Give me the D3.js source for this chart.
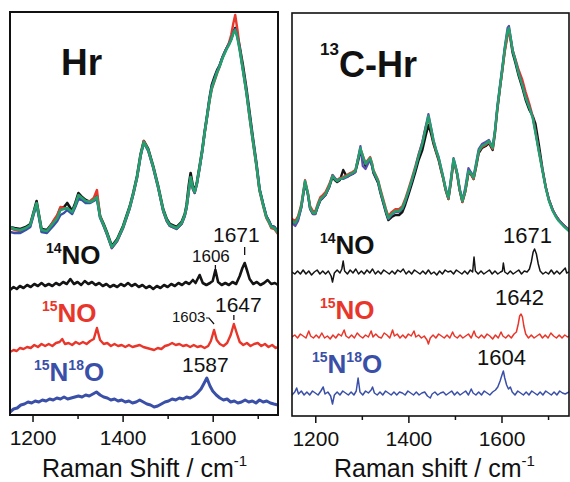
<!DOCTYPE html>
<html><head><meta charset="utf-8">
<script src="https://cdn.jsdelivr.net/npm/d3@7"></script>
<style>html,body{margin:0;padding:0;background:#fff;}svg{display:block;}text{font-family:"Liberation Sans",Arial,Helvetica,sans-serif;}</style>
</head><body><svg id="c" width="570" height="482"></svg>
<script>
// ---------- shared axis ----------
const xDomain = [1150, 1745];
const majorTicks = [1200, 1400, 1600];
const minorTicks = [1300, 1500, 1700];
const colors = {black:"#141414", red:"#e8362b", blue:"#3a4fa8", purple:"#5a4cae", green:"#23a06e"};

// ---------- left panel: Hr resonance Raman (4 overlaid) ----------
const hrX = [1150,1160,1173,1185,1195,1203,1209,1214,1220,1232,1246,1255,1262,1270,1277,1288,1295,1302,1310,1318,1328,1336,1343,1350,1358,1365,1376,1388,1401,1410,1416,1424,1432,1440,1447,1452,1457,1468,1479,1490,1498,1505,1520,1531,1538,1542,1547,1551,1556,1560,1565,1571,1577,1582,1588,1593,1598,1604,1610,1615,1622,1630,1636,1641,1646,1650,1655,1660,1667,1675,1682,1689,1697,1704,1712,1719,1725,1730,1737,1745];
const hrBlack = [188,187,186,188,191,204,214,201,186,185,193,199,207,208,212,204,212,222,218,215,213,216,219,199,191,183,169,176,189,201,209,223,239,261,274,270,266,249,229,206,196,191,188,193,201,210,230,242,229,224,233,249,266,283,301,317,330,338,345,349,358,366,371,376,383,387,379,368,350,326,302,278,252,226,211,199,194,189,188,183];
const hrRed = [187,185,184,186,189,202,211,199,184,183,194,200,208,207,206,202,209,219,216,213,214,217,225,199,189,181,167,174,187,199,207,221,237,259,274,270,264,247,227,204,194,189,186,191,199,207,224,237,226,222,231,247,264,281,299,314,326,334,342,348,358,366,372,380,392,400,385,367,346,322,297,274,249,224,209,197,192,187,186,181];
const hrBlue = [183,182,182,185,188,201,210,198,183,182,189,194,200,202,205,201,208,216,215,212,212,214,216,197,189,181,167,174,187,199,207,221,237,259,272,268,264,247,227,204,194,189,186,191,199,207,224,237,226,222,231,247,264,282,300,316,328,336,344,349,358,366,371,376,383,386,378,366,346,323,299,276,251,226,211,199,194,189,188,183];
const hrGreen = [188,186,185,187,190,203,212,200,185,184,192,197,205,206,207,203,210,220,217,214,213,215,218,198,190,182,168,175,188,200,208,222,238,260,273,269,265,248,228,205,195,190,187,192,200,208,225,238,227,223,232,248,265,282,300,315,327,335,343,348,357,365,370,375,382,385,377,365,345,322,298,275,250,225,210,198,193,188,187,182];

// left difference spectra (relative to own baseline) and offsets
const leftOffsets = {no14:130, no15:69, n15o18:13};
const l14X = [1150,1158,1165,1172,1180,1188,1196,1204,1212,1220,1228,1236,1244,1252,1260,1268,1276,1284,1292,1300,1308,1316,1324,1332,1340,1348,1356,1364,1372,1380,1388,1396,1404,1412,1420,1428,1436,1444,1452,1460,1468,1476,1484,1492,1500,1508,1516,1524,1532,1540,1548,1556,1562,1571,1578,1586,1594,1600,1606,1612,1620,1628,1636,1644,1652,1660,1666,1671,1676,1682,1690,1698,1706,1714,1722,1730,1738,1745];
const l14Y = [-5,-2,-4,-1,-3,0,-2,1,-1,2,-1,1,-1,2,0,3,1,6,1,3,0,4,1,3,0,2,-1,1,-2,0,-2,1,-1,2,-1,1,-2,0,-3,-1,-4,-1,-3,0,-2,1,-1,2,0,3,1,5,2,10,2,0,2,4,15,3,0,2,0,3,1,9,17,22,15,6,1,3,0,2,5,1,2,0];
const l15X = [1150,1158,1165,1172,1180,1188,1196,1204,1212,1220,1228,1236,1244,1252,1260,1266,1272,1280,1288,1296,1304,1312,1320,1328,1336,1343,1350,1358,1366,1374,1382,1390,1398,1406,1414,1422,1430,1438,1446,1454,1462,1470,1478,1486,1494,1502,1510,1518,1526,1534,1542,1550,1558,1566,1574,1582,1590,1596,1603,1609,1616,1624,1632,1640,1647,1654,1660,1668,1676,1684,1692,1700,1708,1716,1724,1732,1740,1745];
const l15Y = [-6,-4,-5,-2,-3,-1,-2,1,-1,2,0,2,0,3,4,7,2,3,1,4,2,4,2,5,7,18,6,2,3,0,2,0,1,-1,1,-1,0,1,-1,-2,-3,-4,-2,-3,0,1,3,1,2,0,1,-1,1,-1,0,-2,0,5,16,6,2,0,3,11,22,12,4,1,3,0,2,3,0,2,-1,1,-2,-1];
const l1518X = [1150,1158,1166,1174,1182,1190,1198,1206,1214,1222,1230,1238,1246,1254,1262,1270,1278,1286,1294,1302,1310,1318,1326,1334,1342,1350,1358,1366,1374,1382,1390,1398,1406,1414,1422,1430,1438,1446,1454,1462,1470,1478,1486,1494,1502,1510,1518,1526,1534,1542,1550,1558,1566,1574,1580,1587,1594,1600,1608,1616,1624,1632,1640,1648,1656,1664,1672,1680,1688,1696,1704,1712,1720,1728,1736,1745];
const l1518Y = [-10,-7,-6,-3,-2,0,-1,1,0,2,1,3,2,4,3,5,3,4,5,6,5,7,6,8,10,7,5,4,2,3,1,2,0,1,-1,0,2,0,-2,-3,-5,-4,-2,0,1,3,2,4,3,5,4,6,9,13,18,24,16,11,7,4,2,3,0,1,-1,0,2,0,1,-1,2,0,1,-1,-2,-3];

// ---------- right panel: 13C-Hr ----------
const c13X = [1150,1157,1163,1170,1178,1184,1189,1195,1200,1205,1211,1216,1222,1230,1237,1242,1247,1253,1260,1268,1275,1280,1286,1291,1297,1302,1308,1313,1318,1322,1325,1330,1335,1340,1346,1352,1357,1364,1372,1380,1387,1393,1400,1408,1415,1422,1430,1437,1443,1449,1454,1460,1465,1470,1475,1480,1486,1491,1497,1501,1505,1510,1516,1522,1529,1534,1540,1545,1551,1558,1566,1573,1581,1586,1591,1597,1602,1607,1613,1616,1620,1624,1630,1637,1645,1652,1660,1667,1673,1680,1688,1695,1702,1710,1717,1723,1733,1745];
const c13Black = [196,192,197,209,233,222,207,202,202,209,216,218,221,229,239,236,234,236,246,239,241,242,244,253,265,258,250,253,256,250,243,238,233,223,213,203,196,199,201,201,204,211,221,233,244,256,266,280,291,282,272,263,256,246,237,226,217,233,255,249,241,226,214,224,243,242,237,248,263,268,270,273,266,283,306,329,347,366,383,386,375,363,353,340,328,316,306,300,292,272,247,229,216,206,200,196,191,186];
const c13Red = [197,195,200,212,236,224,210,205,205,212,219,221,224,232,241,238,236,238,239,241,243,244,246,256,267,261,253,256,259,253,246,241,236,227,217,207,200,204,207,207,210,217,227,239,250,262,274,289,298,286,274,264,257,247,237,226,217,233,255,249,241,226,214,224,244,242,237,249,264,269,271,274,267,284,307,329,346,364,380,384,376,366,357,346,336,324,312,300,285,266,246,229,216,206,200,196,191,186];
const c13Blue = [193,190,195,208,234,222,207,202,202,209,216,218,221,229,241,238,235,237,237,239,241,242,244,256,270,250,247,252,256,250,244,239,234,224,214,204,197,201,204,204,207,214,224,236,248,261,274,289,302,288,276,266,259,249,239,228,219,236,258,251,243,228,216,228,248,244,240,252,267,272,274,276,269,286,310,332,350,369,388,390,378,366,356,343,331,319,309,299,284,266,246,229,216,206,200,196,191,186];
const c13Green = [195,193,198,210,235,223,208,203,203,210,217,219,222,230,240,237,235,237,238,240,242,243,245,255,268,260,252,255,258,252,245,240,235,225,215,205,198,202,205,205,208,215,225,237,248,260,272,287,300,287,275,265,258,248,238,227,218,235,257,250,242,227,215,225,245,243,238,250,265,270,272,275,268,285,308,330,348,367,385,388,377,365,355,342,330,318,308,298,283,265,245,228,215,205,199,195,190,185];

const rightOffsets = {no14:144, no15:80, n15o18:23};
const r14X = [1150,1156,1162,1168,1174,1180,1186,1192,1198,1204,1210,1216,1222,1228,1234,1237,1241,1247,1253,1257,1260,1263,1269,1275,1281,1287,1293,1299,1305,1311,1317,1323,1329,1335,1341,1347,1353,1359,1365,1371,1377,1383,1389,1395,1401,1407,1413,1419,1425,1431,1437,1443,1449,1455,1461,1467,1473,1479,1485,1491,1497,1503,1509,1515,1521,1527,1533,1538,1541,1544,1550,1556,1562,1568,1574,1580,1586,1592,1598,1602,1604,1607,1613,1619,1625,1631,1637,1643,1649,1655,1660,1664,1668,1671,1675,1679,1683,1689,1695,1701,1707,1713,1719,1725,1731,1737,1740,1745];
const r14Y = [0,-2,1,-2,2,-2,1,-3,0,2,-2,1,-2,1,-4,-10,-1,2,-1,3,11,1,-2,2,-1,3,-2,1,-2,2,-1,3,-2,1,-2,2,0,-2,1,-2,2,0,3,-2,1,-2,2,0,-2,1,-2,2,-2,0,-3,1,-2,2,0,1,-2,2,0,-2,1,-2,2,0,15,1,-2,1,-2,0,2,-2,1,-2,0,1,9,0,-2,1,-2,0,2,-2,1,0,3,10,20,23,18,8,1,-2,0,-2,2,-2,1,-2,1,4,-1,0];
const r15X = [1150,1156,1162,1168,1174,1180,1186,1190,1196,1202,1208,1214,1220,1226,1232,1238,1244,1250,1256,1262,1266,1272,1278,1284,1290,1296,1302,1308,1314,1320,1324,1330,1336,1342,1348,1354,1360,1366,1370,1376,1382,1388,1394,1400,1406,1412,1416,1422,1428,1434,1440,1443,1447,1453,1459,1465,1471,1477,1483,1489,1495,1499,1505,1511,1517,1523,1529,1535,1541,1545,1551,1557,1563,1569,1575,1581,1587,1593,1599,1603,1609,1615,1621,1627,1632,1636,1639,1642,1645,1648,1652,1658,1664,1670,1676,1682,1688,1694,1700,1706,1712,1718,1724,1730,1736,1742,1745];
const r15Y = [-1,1,-2,2,0,-2,5,0,-2,1,-2,3,-2,0,-3,1,-2,2,0,6,0,-2,1,-2,3,0,-2,1,-1,5,-1,2,-1,-2,3,1,-2,6,0,2,-2,1,-2,2,0,5,-1,1,-2,0,-4,-8,-2,1,-2,2,0,-2,1,-2,4,0,-2,1,-2,0,2,-2,5,0,-2,1,-2,2,0,-3,1,-2,4,0,-2,1,-2,2,4,12,20,22,19,10,2,-2,1,-2,0,2,-2,1,-2,3,0,-2,1,-2,1,-1,0];
const r1518X = [1150,1156,1160,1164,1170,1176,1182,1188,1194,1200,1206,1212,1217,1221,1227,1233,1237,1241,1247,1253,1259,1265,1271,1277,1283,1288,1292,1296,1302,1308,1314,1320,1323,1327,1333,1339,1345,1351,1357,1363,1369,1375,1381,1387,1393,1399,1405,1411,1417,1423,1429,1435,1441,1447,1451,1457,1463,1469,1475,1481,1487,1493,1499,1505,1511,1517,1523,1529,1535,1539,1545,1551,1557,1563,1569,1575,1581,1587,1592,1597,1601,1604,1607,1611,1615,1619,1623,1629,1635,1641,1647,1653,1659,1665,1671,1677,1683,1689,1695,1701,1707,1713,1719,1725,1731,1737,1745];
const r1518Y = [-2,1,5,-1,2,-2,1,-2,2,0,-2,2,6,-1,1,-3,-11,-2,1,-2,2,0,-2,1,-2,2,15,1,-2,2,0,3,6,0,-2,1,-2,2,0,-2,1,-2,1,0,-2,2,0,-2,1,-2,0,1,-3,-5,-1,1,-2,0,1,-2,0,2,-2,1,-2,0,2,-2,4,0,-2,1,-2,2,0,-2,1,3,6,12,18,22,15,8,4,6,1,-2,2,0,-2,1,-2,2,0,-2,1,-2,2,0,-2,1,-2,2,0,-1,1];

// ---------- drawing ----------
const svg = d3.select("#c");
const FONT = '"Liberation Sans",Arial,Helvetica,sans-serif';

function drawPanel(p) {
  const x = d3.scaleLinear().domain(xDomain).range([p.left, p.right]);
  const y = d3.scaleLinear().domain([0, 403]).range([p.bottom, p.top]);
  const g = svg.append("g");
  const clipId = "clip" + p.id;
  svg.append("clipPath").attr("id", clipId).append("rect")
    .attr("x", p.left).attr("y", p.top).attr("width", p.right - p.left).attr("height", p.bottom - p.top);
  const plot = g.append("g").attr("clip-path", `url(#${clipId})`);

  const line = (off) => d3.line().x(d => x(d[0])).y(d => y(d[1] + off));

  p.traces.forEach(t => {
    plot.append("path").datum(d3.zip(t.x, t.y))
      .attr("d", line(t.offset))
      .attr("fill", "none").attr("stroke", t.color).attr("stroke-width", t.width)
      .attr("stroke-linejoin", "round").attr("stroke-linecap", "round");
  });

  // frame
  g.append("rect").attr("x", p.left).attr("y", p.top).attr("width", p.right - p.left).attr("height", p.bottom - p.top)
    .attr("fill", "none").attr("stroke", "#111").attr("stroke-width", p.frameW);

  // axes
  const ax = g.append("g").attr("transform", `translate(0,${p.bottom})`)
    .call(d3.axisBottom(x).tickValues(majorTicks).tickSize(7).tickPadding(8).tickFormat(d3.format("d")));
  ax.select(".domain").remove();
  ax.selectAll("line").attr("stroke", "#111").attr("stroke-width", 1.5);
  ax.selectAll("text").attr("font-family", FONT).attr("font-size", 21).attr("fill", "#111");
  const axm = g.append("g").attr("transform", `translate(0,${p.bottom})`)
    .call(d3.axisBottom(x).tickValues(minorTicks).tickSize(4).tickFormat(""));
  axm.select(".domain").remove();
  axm.selectAll("line").attr("stroke", "#111").attr("stroke-width", 1.5);

  // axis title
  const tt = g.append("text").attr("x", p.titleX).attr("y", 477).attr("font-size", 25).attr("fill", "#111");
  tt.append("tspan").text(p.axisTitle);
  tt.append("tspan").attr("font-size", 15).attr("dy", -11).text("-1");

  return {x, y, g};
}

function supLabel(g, xPos, yBase, parts, color, bold) {
  const t = g.append("text").attr("x", xPos).attr("y", yBase).attr("fill", color)
    .attr("font-weight", bold ? "bold" : "normal");
  let prevRaise = 0;
  parts.forEach(pt => {
    t.append("tspan").attr("font-size", pt.size).attr("dy", prevRaise - pt.raise).text(pt.text);
    prevRaise = pt.raise;
  });
  return t;
}
function num(g, xPos, yBase, txt, size) {
  g.append("text").attr("x", xPos).attr("y", yBase).attr("font-size", size).attr("fill", "#111").text(txt);
}
function vtick(g, xPos, y1, y2) {
  g.append("line").attr("x1", xPos).attr("x2", xPos).attr("y1", y1).attr("y2", y2)
    .attr("stroke", "#111").attr("stroke-width", 1.3);
}

// LEFT PANEL
const L = drawPanel({
  id: "L", left: 10, right: 278, top: 12, bottom: 415, frameW: 2,
  axisTitle: "Raman Shift / cm", titleX: 42,
  traces: [
    {x: hrX, y: hrBlack, offset: 0, color: colors.black, width: 2.6},
    {x: hrX, y: hrRed, offset: 0, color: colors.red, width: 2.4},
    {x: hrX, y: hrBlue, offset: 0, color: colors.blue, width: 2.4},
    {x: hrX, y: hrGreen, offset: 0, color: colors.green, width: 2.6},
    {x: l14X, y: l14Y, offset: leftOffsets.no14, color: colors.black, width: 2.6},
    {x: l15X, y: l15Y, offset: leftOffsets.no15, color: colors.red, width: 2.4},
    {x: l1518X, y: l1518Y, offset: leftOffsets.n15o18, color: colors.blue, width: 3}
  ]
});
supLabel(L.g, 61, 75, [{text: "Hr", size: 37, raise: 0}], "#111", true);
supLabel(L.g, 46, 264, [{text: "14", size: 14, raise: 11}, {text: "NO", size: 26, raise: 0}], "#111", true);
supLabel(L.g, 42, 322, [{text: "15", size: 14, raise: 11}, {text: "NO", size: 26, raise: 0}], colors.red, true);
supLabel(L.g, 34, 381, [{text: "15", size: 14, raise: 11}, {text: "N", size: 26, raise: 0}, {text: "18", size: 14, raise: 11}, {text: "O", size: 26, raise: 0}], colors.blue, true);
num(L.g, 213, 242, "1671", 21);
vtick(L.g, L.x(1671), 247, 255);
num(L.g, 192, 262, "1606", 17);
vtick(L.g, L.x(1606), 265, 270);
num(L.g, 215, 312, "1647", 21);
vtick(L.g, L.x(1647), 315, 320);
num(L.g, 172, 322, "1603", 15);
L.g.append("path").attr("d", `M206,318 L209,318 L${L.x(1603)},324`).attr("fill", "none").attr("stroke", "#111").attr("stroke-width", 1.2);
num(L.g, 182, 372, "1587", 21);

// RIGHT PANEL
const R = drawPanel({
  id: "R", left: 292, right: 569, top: 13, bottom: 416, frameW: 1.6,
  axisTitle: "Raman shift / cm", titleX: 334,
  traces: [
    {x: c13X, y: c13Black, offset: 0, color: colors.black, width: 2.4},
    {x: c13X, y: c13Red, offset: 0, color: colors.red, width: 2.2},
    {x: c13X, y: c13Blue, offset: 0, color: colors.purple, width: 2.2},
    {x: c13X, y: c13Green, offset: 0, color: colors.green, width: 2.4},
    {x: r14X, y: r14Y, offset: rightOffsets.no14, color: colors.black, width: 1.5},
    {x: r15X, y: r15Y, offset: rightOffsets.no15, color: colors.red, width: 1.5},
    {x: r1518X, y: r1518Y, offset: rightOffsets.n15o18, color: colors.blue, width: 1.5}
  ]
});
supLabel(R.g, 320, 77, [{text: "13", size: 17, raise: 22}, {text: "C-Hr", size: 36, raise: 0}], "#111", true);
supLabel(R.g, 320, 254, [{text: "14", size: 14, raise: 11}, {text: "NO", size: 26, raise: 0}], "#111", true);
supLabel(R.g, 320, 319, [{text: "15", size: 14, raise: 11}, {text: "NO", size: 26, raise: 0}], colors.red, true);
supLabel(R.g, 312, 373, [{text: "15", size: 14, raise: 11}, {text: "N", size: 26, raise: 0}, {text: "18", size: 14, raise: 11}, {text: "O", size: 26, raise: 0}], colors.blue, true);
num(R.g, 503, 243, "1671", 22);
num(R.g, 495, 305, "1642", 22);
num(R.g, 477, 365, "1604", 22);
</script></body></html>
